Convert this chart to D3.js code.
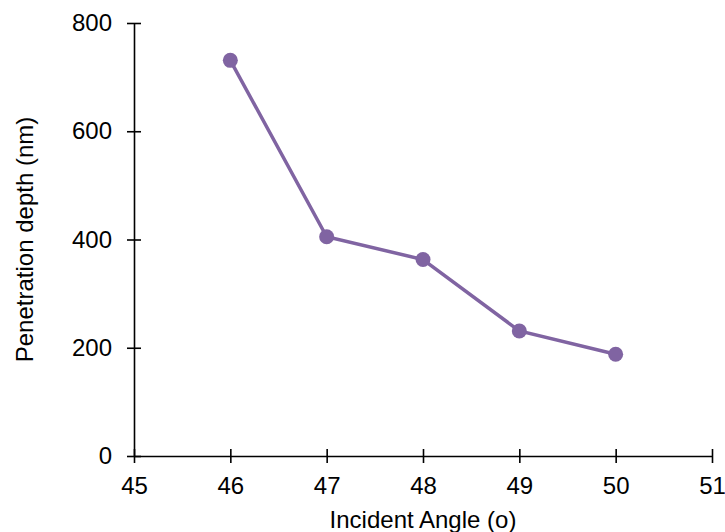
<!DOCTYPE html>
<html>
<head>
    <title>Penetration depth vs incident angle</title>
    <script src="https://d3js.org/d3.v7.min.js"></script>
    <style>
        body { margin: 0; background: #fff; }
        .chart text { font-family: "Liberation Sans", Arial, sans-serif; fill: #000; }
        .axis path, .axis line { stroke: #000; stroke-width: 1.6px; }
    </style>
</head>
<body>
    <div class="chart"></div>
    <script>
        // Data
        const angles = [46, 47, 48, 49, 50];
        const depths = [731, 405, 363, 231, 188];
        const xTicks = [45, 46, 47, 48, 49, 50, 51];
        const yTicks = [0, 200, 400, 600, 800];

        const data = angles.map((a, i) => ({x: a, y: depths[i]}));

        // Chart dimensions
        const W = 725, H = 532;
        const margin = {top: 23, right: 13, bottom: 76, left: 134};
        const width = W - margin.left - margin.right;
        const height = H - margin.top - margin.bottom;

        const svg = d3.select(".chart")
            .append("svg")
            .attr("width", W)
            .attr("height", H)
            .append("g")
            .attr("transform", `translate(${margin.left}, ${margin.top})`);

        // Scales
        const xScale = d3.scaleLinear().domain([45, 51]).range([0, width]);
        const yScale = d3.scaleLinear().domain([0, 800]).range([height, 0]);

        // Axes (ticks cross the axis line)
        const xAxis = svg.append("g")
            .attr("class", "axis")
            .attr("transform", `translate(0, ${height})`)
            .call(d3.axisBottom(xScale).tickValues(xTicks).tickFormat(d3.format("d"))
                .tickSize(7).tickSizeOuter(0).tickPadding(14));
        xAxis.selectAll(".tick line").attr("y1", -7).attr("y2", 7);

        const yAxis = svg.append("g")
            .attr("class", "axis")
            .call(d3.axisLeft(yScale).tickValues(yTicks).tickFormat(d3.format("d"))
                .tickSize(7).tickSizeOuter(0).tickPadding(15));
        yAxis.selectAll(".tick line").attr("x1", 7).attr("x2", -7);

        svg.selectAll(".axis text").style("font-size", "24px");
        svg.selectAll(".axis .domain").attr("stroke", "#000");

        // Axis titles
        svg.append("text")
            .attr("x", width / 2)
            .attr("y", height + 72)
            .attr("text-anchor", "middle")
            .style("font-size", "24px")
            .text("Incident Angle (o)");

        svg.append("text")
            .attr("transform", `translate(${33 - margin.left}, ${height / 2}) rotate(-90)`)
            .attr("text-anchor", "middle")
            .style("font-size", "24px")
            .text("Penetration depth (nm)");

        // Line and markers
        const line = d3.line()
            .x(d => xScale(d.x))
            .y(d => yScale(d.y));

        svg.append("path")
            .datum(data)
            .attr("fill", "none")
            .attr("stroke", "#8064a2")
            .attr("stroke-width", 3.5)
            .attr("d", line);

        svg.selectAll(".dot")
            .data(data)
            .enter()
            .append("circle")
            .attr("class", "dot")
            .attr("cx", d => xScale(d.x))
            .attr("cy", d => yScale(d.y))
            .attr("r", 7.5)
            .attr("fill", "#8064a2");
    </script>
</body>
</html>
